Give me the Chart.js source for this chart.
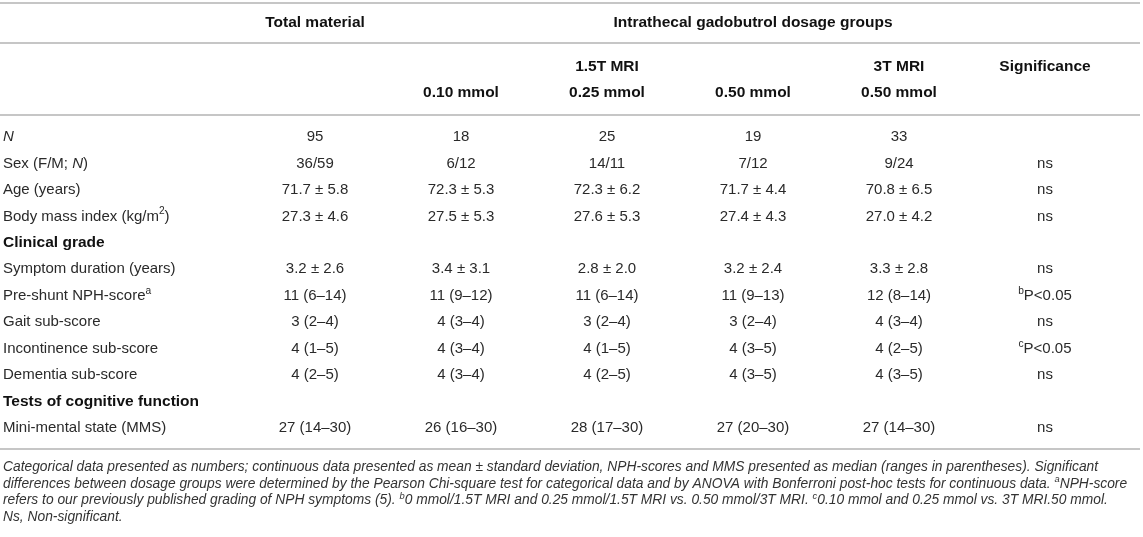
<!DOCTYPE html>
<html>
<head>
<meta charset="utf-8">
<script src="https://cdn.jsdelivr.net/npm/chart.js@4/dist/chart.umd.min.js"></script>
<style>
  html, body { margin: 0; padding: 0; background: #fff; }
  #wrap { width: 1143px; height: 537px; }
</style>
</head>
<body>
<div id="wrap"><canvas id="table"></canvas></div>
<script>
// *text* = italic, ^text^ = superscript
const rowLabels = [
  '*N*', 'Sex (F/M; *N*)', 'Age (years)', 'Body mass index (kg/m^2^)', 'Clinical grade',
  'Symptom duration (years)', 'Pre-shunt NPH-score^a^', 'Gait sub-score', 'Incontinence sub-score',
  'Dementia sub-score', 'Tests of cognitive function', 'Mini-mental state (MMS)'
];
const sectionRows = ['Clinical grade', 'Tests of cognitive function'];

const columnKeys = ['total', 'd010', 'd025', 'd050', 'd3t', 'sig'];

const totalMaterial = ['95', '36/59', '71.7 ± 5.8', '27.3 ± 4.6', '', '3.2 ± 2.6', '11 (6–14)', '3 (2–4)', '4 (1–5)', '4 (2–5)', '', '27 (14–30)'];
const dose010 = ['18', '6/12', '72.3 ± 5.3', '27.5 ± 5.3', '', '3.4 ± 3.1', '11 (9–12)', '4 (3–4)', '4 (3–4)', '4 (3–4)', '', '26 (16–30)'];
const dose025 = ['25', '14/11', '72.3 ± 6.2', '27.6 ± 5.3', '', '2.8 ± 2.0', '11 (6–14)', '3 (2–4)', '4 (1–5)', '4 (2–5)', '', '28 (17–30)'];
const dose050 = ['19', '7/12', '71.7 ± 4.4', '27.4 ± 4.3', '', '3.2 ± 2.4', '11 (9–13)', '3 (2–4)', '4 (3–5)', '4 (3–5)', '', '27 (20–30)'];
const dose3T = ['33', '9/24', '70.8 ± 6.5', '27.0 ± 4.2', '', '3.3 ± 2.8', '12 (8–14)', '4 (3–4)', '4 (2–5)', '4 (3–5)', '', '27 (14–30)'];
const significance = ['', 'ns', 'ns', 'ns', '', 'ns', '^b^P<0.05', 'ns', '^c^P<0.05', 'ns', '', 'ns'];

// header rows: text spanning columns [from, to]
const headerTop = [
  { text: 'Total material', from: 0, to: 0 },
  { text: 'Intrathecal gadobutrol dosage groups', from: 1, to: 5 }
];
const headerMid = ['', '', '1.5T MRI', '', '3T MRI', 'Significance'];
const headerLow = ['', '0.10 mmol', '0.25 mmol', '0.50 mmol', '0.50 mmol', ''];

const footnotes = [
  'Categorical data presented as numbers; continuous data presented as mean ± standard deviation, NPH-scores and MMS presented as median (ranges in parentheses). Significant',
  'differences between dosage groups were determined by the Pearson Chi-square test for categorical data and by ANOVA with Bonferroni post-hoc tests for continuous data. ^a^NPH-score',
  'refers to our previously published grading of NPH symptoms (5). ^b^0 mmol/1.5T MRI and 0.25 mmol/1.5T MRI vs. 0.50 mmol/3T MRI. ^c^0.10 mmol and 0.25 mmol vs. 3T MRI.50 mmol.',
  'Ns, Non-significant.'
];

const FAMILY = '"Liberation Sans", Arial, Helvetica, sans-serif';

function drawRich(ctx, text, x, y, align, opt) {
  if (!text) return;
  const size = opt.size || 15;
  const parts = text.split(/(\*[^*]+\*|\^[^^]+\^)/).filter(Boolean).map(p => {
    if (p[0] === '*') return { t: p.slice(1, -1), italic: true };
    if (p[0] === '^') return { t: p.slice(1, -1), sup: true };
    return { t: p };
  });
  const fontOf = p => ((p.italic || opt.italic) ? 'italic ' : '') + (opt.bold ? 'bold ' : '') +
    (p.sup ? size * 0.68 : size) + 'px ' + FAMILY;
  let total = 0;
  parts.forEach(p => { ctx.font = fontOf(p); p.w = ctx.measureText(p.t).width; total += p.w; });
  let cx = align === 'center' ? x - total / 2 : x;
  ctx.textBaseline = 'middle';
  ctx.textAlign = 'left';
  ctx.fillStyle = opt.color || '#2a2a2a';
  parts.forEach(p => {
    ctx.font = fontOf(p);
    ctx.fillText(p.t, cx, p.sup ? y - size * 0.32 : y);
    cx += p.w;
  });
}

const head = { bold: true, size: 15.5, color: '#111' };

const tablePlugin = {
  id: 'tableText',
  afterDatasetsDraw(chart) {
    const ctx = chart.ctx;
    const xs = chart.scales.x;
    const ys = chart.scales.y;
    const area = chart.chartArea;

    ctx.save();
    // rules
    ctx.strokeStyle = '#c6c6c6';
    ctx.lineWidth = 2;
    [3, 43, area.top - 9, area.bottom + 8].forEach(ly => {
      ctx.beginPath();
      ctx.moveTo(0, ly);
      ctx.lineTo(chart.width - 3, ly);
      ctx.stroke();
    });

    // headers
    headerTop.forEach(h => {
      const cx = (xs.getPixelForValue(h.from) + xs.getPixelForValue(h.to)) / 2;
      drawRich(ctx, h.text, cx, 23, 'center', head);
    });
    headerMid.forEach((h, i) => drawRich(ctx, h, xs.getPixelForValue(i), 67, 'center', head));
    headerLow.forEach((h, i) => drawRich(ctx, h, xs.getPixelForValue(i), 93, 'center', head));

    // row labels
    rowLabels.forEach((lab, i) => {
      const opt = sectionRows.includes(lab) ? head : {};
      drawRich(ctx, lab, 3, ys.getPixelForValue(i), 'left', opt);
    });

    // cells, placed at the points the library computed
    chart.data.datasets.forEach((ds, di) => {
      chart.getDatasetMeta(di).data.forEach((pt, i) => {
        drawRich(ctx, ds.cells[i], pt.x, pt.y, 'center', {});
      });
    });

    // footnotes
    footnotes.forEach((f, i) => drawRich(ctx, f, 3, area.bottom + 26 + i * 16.8, 'left', { italic: true, size: 13.8, color: '#333' }));
    ctx.restore();
  }
};

const columns = [totalMaterial, dose010, dose025, dose050, dose3T, significance];

new Chart(document.getElementById('table'), {
  type: 'line',
  data: {
    labels: columnKeys,
    datasets: columns.map((col, c) => ({
      label: columnKeys[c],
      cells: col,
      data: rowLabels.map(r => ({ x: columnKeys[c], y: r })),
      showLine: false,
      pointRadius: 0,
      pointHoverRadius: 0
    }))
  },
  options: {
    responsive: true,
    maintainAspectRatio: false,
    animation: false,
    events: [],
    layout: { padding: { left: 242, right: 25, top: 124, bottom: 96 } },
    scales: {
      x: { type: 'category', labels: columnKeys, offset: true, display: false },
      y: { type: 'category', labels: rowLabels, offset: true, display: false }
    },
    plugins: {
      legend: { display: false },
      tooltip: { enabled: false }
    }
  },
  plugins: [tablePlugin]
});
</script>
</body>
</html>
